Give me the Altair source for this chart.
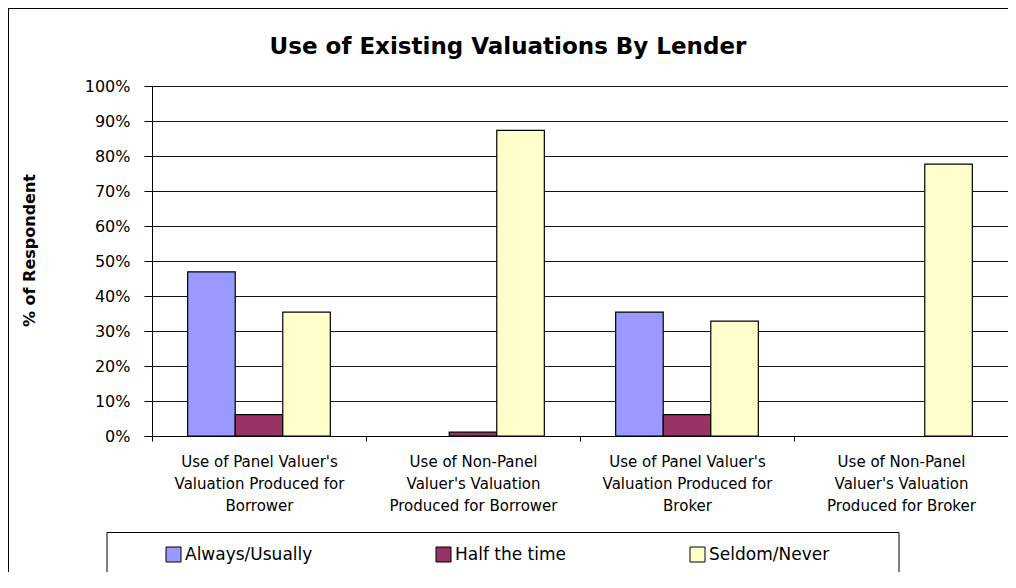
import altair as alt
import pandas as pd

categories = [
    "Use of Panel Valuer's\nValuation Produced for\nBorrower",
    "Use of Non-Panel\nValuer's Valuation\nProduced for Borrower",
    "Use of Panel Valuer's\nValuation Produced for\nBroker",
    "Use of Non-Panel\nValuer's Valuation\nProduced for Broker",
]
series = ["Always/Usually", "Half the time", "Seldom/Never"]
always_usually = [0.469, 0.0, 0.354, 0.0]
half_the_time = [0.061, 0.011, 0.061, 0.0]
seldom_never = [0.354, 0.873, 0.328, 0.777]
colors = ["#9999FF", "#993366", "#FFFFCC"]
y_ticks = [0.0, 0.1, 0.2, 0.3, 0.4, 0.5, 0.6, 0.7, 0.8, 0.9, 1.0]

rows = []
for s, vals in zip(series, [always_usually, half_the_time, seldom_never]):
    for c, v in zip(categories, vals):
        rows.append({"category": c, "series": s, "value": v})
df = pd.DataFrame(rows)
one = pd.DataFrame({"k": [0]})

FONT = "DejaVu Sans"

bars = alt.Chart(df).mark_bar(stroke="black", strokeWidth=1.2).encode(
    x=alt.X(
        "category:N",
        sort=categories,
        scale=alt.Scale(domain=categories, paddingInner=0, paddingOuter=0),
        axis=alt.Axis(
            title=None,
            labelExpr="split(datum.label, '\\n')",
            labelAngle=0,
            labelFont=FONT,
            labelFontSize=15,
            labelLineHeight=22,
            labelLimit=400,
            labelPadding=13,
            labelColor="black",
            tickBand="extent",
            tickSize=5,
            tickColor="black",
            domainColor="black",
            grid=False,
        ),
    ),
    xOffset=alt.XOffset(
        "series:N",
        sort=series,
        scale=alt.Scale(domain=series, paddingInner=0, paddingOuter=0.75),
    ),
    y=alt.Y(
        "value:Q",
        scale=alt.Scale(domain=[0, 1], nice=False),
        axis=alt.Axis(
            title="% of Respondent",
            values=y_ticks,
            format=".0%",
            labelFont=FONT,
            labelFontSize=16,
            labelColor="black",
            labelPadding=14,
            tickSize=8,
            tickColor="black",
            domainColor="black",
            gridColor="#111111",
            gridWidth=1,
            titleFont=FONT,
            titleFontSize=16,
            titleFontWeight="bold",
            titleColor="black",
            titleAngle=-90,
            titleX=-123,
            titleY=164,
            titleAlign="center",
            titleBaseline="middle",
        ),
    ),
    color=alt.Color(
        "series:N",
        sort=series,
        scale=alt.Scale(domain=series, range=colors),
        legend=alt.Legend(
            title=None,
            orient="none",
            legendX=13,
            legendY=460,
            direction="horizontal",
            symbolType="square",
            symbolSize=225,
            symbolStrokeColor="black",
            symbolStrokeWidth=1,
            labelFont=FONT,
            labelFontSize=17,
            labelColor="black",
            labelOffset=3,
            columnPadding=121,
        ),
    ),
).transform_filter("datum.value > 0")

# outer chart frame (left and top edges; the reference is cropped on the right and bottom)
frame_left = alt.Chart(one).mark_rect(color="black", strokeWidth=0).encode(
    x=alt.value(-144), x2=alt.value(-143), y=alt.value(-78), y2=alt.value(800)
)
frame_top = alt.Chart(one).mark_rect(color="black", strokeWidth=0).encode(
    x=alt.value(-144), x2=alt.value(1200), y=alt.value(-78), y2=alt.value(-77)
)

legend_box = alt.Chart(one).mark_rect(
    fillOpacity=0, stroke="black", strokeWidth=1
).encode(
    x=alt.value(-45), x2=alt.value(747), y=alt.value(446.5), y2=alt.value(490.5)
)

chart = alt.layer(frame_left, frame_top, legend_box, bars).properties(
    width=856,
    height=350,
    title=alt.Title(
        "Use of Existing Valuations By Lender",
        font=FONT,
        fontSize=23,
        fontWeight="bold",
        color="black",
        anchor="middle",
        dx=-72,
        dy=55,
    ),
    autosize=alt.AutoSizeParams(type="none"),
    padding={"left": 144, "top": 78, "right": 0, "bottom": 136},
).configure_view(strokeWidth=0).configure(background="white")

chart.save("out.html", embed_options={"renderer": "svg", "actions": False})
